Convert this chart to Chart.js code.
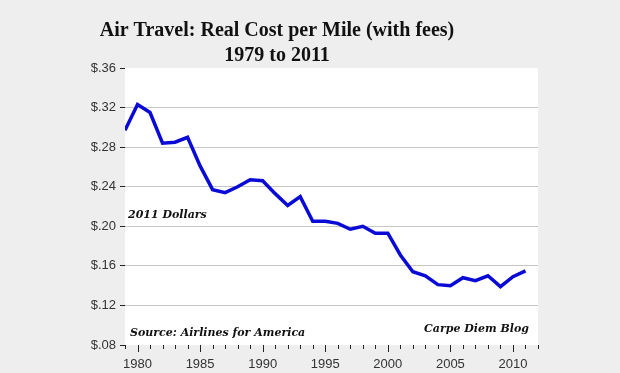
<!DOCTYPE html>
<html>
<head>
<meta charset="utf-8">
<script src="https://cdn.jsdelivr.net/npm/chart.js"></script>
<style>
	html, body { margin: 0; padding: 0; background: #eeeeee; }
	#wrap { width: 620px; height: 373px; }
</style>
</head>
<body>
<div id="wrap"><canvas id="costChart" width="620" height="373"></canvas></div>
<script>
/*
 * data
 */
const years = [1979, 1980, 1981, 1982, 1983, 1984, 1985, 1986, 1987, 1988, 1989,
	1990, 1991, 1992, 1993, 1994, 1995, 1996, 1997, 1998, 1999, 2000,
	2001, 2002, 2003, 2004, 2005, 2006, 2007, 2008, 2009, 2010, 2011];
const costPerMile = [0.297, 0.323, 0.315, 0.284, 0.285, 0.290, 0.261, 0.237, 0.234, 0.240, 0.247,
	0.246, 0.233, 0.221, 0.230, 0.205, 0.205, 0.203, 0.197, 0.200, 0.193, 0.193,
	0.171, 0.154, 0.150, 0.141, 0.140, 0.148, 0.145, 0.150, 0.139, 0.149, 0.155];
const labelYears = [1980, 1985, 1990, 1995, 2000, 2005, 2010];
const titleLines = ['Air Travel: Real Cost per Mile (with fees)', '1979 to 2011'];
const notes = { units: '2011 Dollars', source: 'Source: Airlines for America', blog: 'Carpe Diem Blog' };

const lineColor = '#0a0ad6';
const inkColor = '#222';
const noteFont = 'italic bold 11px "DejaVu Serif", serif';

/*
 * background, title, x tick marks and notes
 */
const decorPlugin = {
	id: 'decor',
	beforeDraw(chart) {
		const { ctx, chartArea: a } = chart;
		ctx.save();
		ctx.fillStyle = '#eeeeee';
		ctx.fillRect(0, 0, chart.width, chart.height);
		ctx.fillStyle = '#ffffff';
		ctx.fillRect(a.left, a.top, a.right - a.left, a.bottom - a.top);
		ctx.restore();
	},
	afterDraw(chart) {
		const { ctx, chartArea: a } = chart;
		const xScale = chart.scales.x;
		ctx.save();

		// title
		ctx.fillStyle = '#111';
		ctx.textAlign = 'center';
		ctx.textBaseline = 'alphabetic';
		ctx.font = 'bold 20px "Liberation Serif", serif';
		ctx.fillText(titleLines[0], 277, 36);
		ctx.fillText(titleLines[1], 277, 61);

		// tick marks every year, longer every 5 years
		ctx.strokeStyle = inkColor;
		ctx.lineWidth = 1;
		for (let yr = xScale.min; yr <= xScale.max; yr++) {
			const px = Math.round(xScale.getPixelForValue(yr)) + 0.5;
			const len = labelYears.includes(yr) ? 7 : 4;
			ctx.beginPath();
			ctx.moveTo(px, a.bottom);
			ctx.lineTo(px, a.bottom + len);
			ctx.stroke();
		}

		// notes
		ctx.fillStyle = '#111';
		ctx.font = noteFont;
		ctx.textAlign = 'left';
		ctx.fillText(notes.units, a.left + 3, 218);
		ctx.fillText(notes.source, a.left + 5, 336);
		ctx.textAlign = 'right';
		ctx.fillText(notes.blog, a.right - 9, 332);
		ctx.restore();
	}
};

new Chart(document.getElementById('costChart'), {
	type: 'line',
	data: {
		datasets: [{
			label: 'Real cost per mile',
			data: years.map((yr, i) => ({ x: yr, y: costPerMile[i] })),
			borderColor: lineColor,
			borderWidth: 3.5,
			pointRadius: 0,
			tension: 0,
			fill: false
		}]
	},
	options: {
		responsive: false,
		animation: false,
		layout: {
			padding: { left: 0, top: 68, right: 82, bottom: 0 }
		},
		plugins: {
			legend: { display: false },
			title: { display: false },
			tooltip: { enabled: false }
		},
		scales: {
			x: {
				type: 'linear',
				min: 1979,
				max: 2012,
				grid: { display: false },
				border: { display: false },
				ticks: {
					stepSize: 1,
					autoSkip: false,
					maxRotation: 0,
					padding: 4,
					color: '#333',
					font: { family: '"Liberation Sans", Arial, sans-serif', size: 13 },
					callback: function(value) {
						return labelYears.includes(value) ? String(value) : '';
					}
				},
				afterFit: function(scale) {
					scale.height = 28;
				}
			},
			y: {
				min: 0.08,
				max: 0.36,
				border: { display: false },
				grid: {
					color: function(c) {
						const v = c.tick ? c.tick.value : 0;
						return (Math.abs(v - 0.36) < 0.001 || Math.abs(v - 0.08) < 0.001) ? 'rgba(0,0,0,0)' : '#c6c6c6';
					},
					tickColor: inkColor,
					tickLength: 5,
					lineWidth: 1
				},
				ticks: {
					stepSize: 0.04,
					padding: 4,
					color: '#333',
					font: { family: '"Liberation Sans", Arial, sans-serif', size: 13 },
					callback: function(value) {
						return '$' + value.toFixed(2).slice(1);
					}
				},
				afterFit: function(scale) {
					scale.width = 125;
				}
			}
		}
	},
	plugins: [decorPlugin]
});
</script>
</body>
</html>
